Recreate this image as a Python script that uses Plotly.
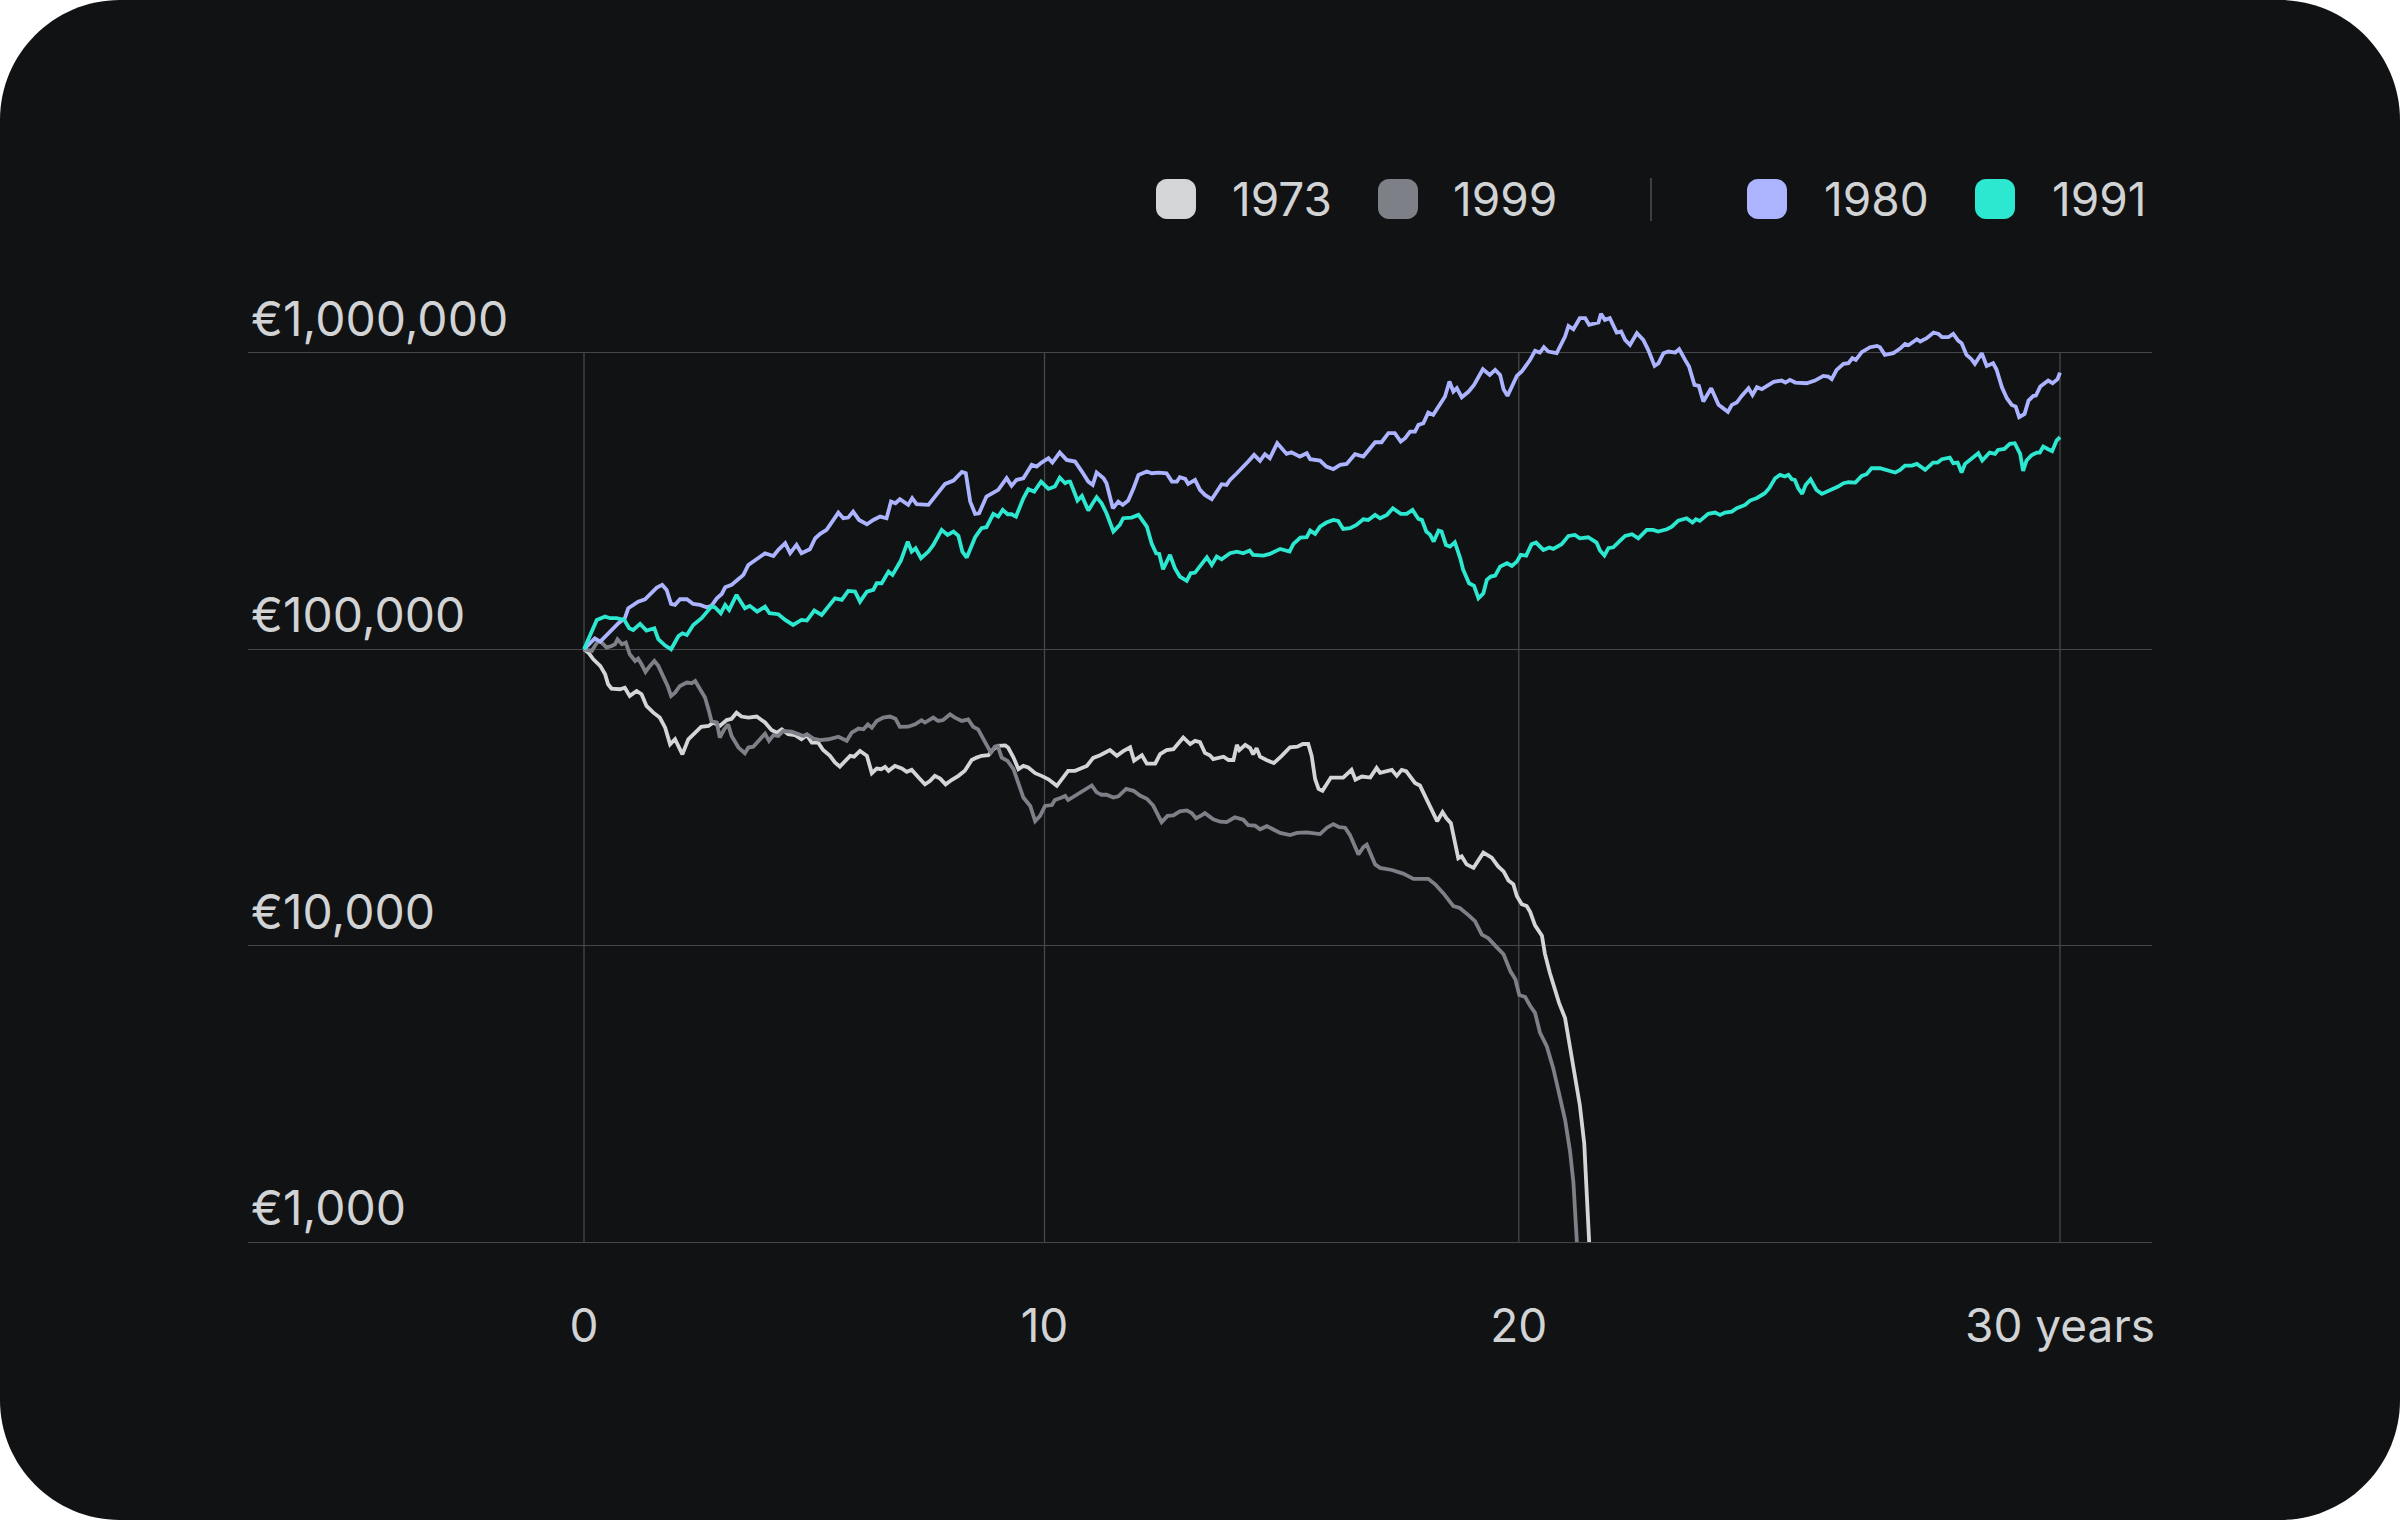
import plotly.graph_objects as go

# ---------------- data ----------------
years_1980 = [0, 0.22, 0.33, 0.49, 0.70, 0.83, 0.90, 1.00, 1.10, 1.24,
              1.38, 1.48, 1.59, 1.68, 1.77, 1.85, 1.95, 2.09, 2.22, 2.36,
              2.49, 2.59, 2.70, 2.80, 2.87, 3.00, 3.14, 3.24, 3.34, 3.51,
              3.68, 3.85, 3.95, 4.09, 4.19, 4.32, 4.42, 4.59, 4.70, 4.80,
              4.93, 5.07, 5.17, 5.27, 5.37, 5.47, 5.59, 5.75, 5.88, 6.02,
              6.15, 6.24, 6.33, 6.42, 6.59, 6.67, 6.76, 7.00, 7.17, 7.34,
              7.51, 7.68, 7.76, 7.85, 7.95, 8.03, 8.18, 8.42, 8.59, 8.69,
              8.79, 8.93, 9.10, 9.20, 9.30, 9.44, 9.52, 9.67, 9.81, 9.98,
              10.12, 10.25, 10.34, 10.42, 10.56, 10.62, 10.75, 10.86, 10.95, 11.06,
              11.17, 11.27, 11.44, 11.54, 11.68, 11.84, 11.95, 12.05, 12.11, 12.22,
              12.28, 12.42, 12.52, 12.62, 12.76, 12.86, 12.96, 13.06, 13.13, 13.27,
              13.40, 13.50, 13.62, 13.74, 13.84, 13.94, 14.09, 14.28, 14.38, 14.55,
              14.69, 14.76, 14.96, 15.09, 15.23, 15.37, 15.50, 15.67, 15.84, 15.98,
              16.08, 16.21, 16.35, 16.48, 16.60, 16.69, 16.79, 16.89, 16.96, 17.06,
              17.16, 17.26, 17.40, 17.50, 17.59, 17.67, 17.74, 17.84, 17.98, 18.09,
              18.27, 18.41, 18.52, 18.62, 18.69, 18.77, 18.86, 18.96, 19.06, 19.16,
              19.23, 19.33, 19.43, 19.51, 19.60, 19.77, 19.87, 19.94, 20.01, 20.11,
              20.24, 20.35, 20.43, 20.55, 20.62, 20.67, 20.75, 20.85, 20.99, 21.08,
              21.16, 21.26, 21.40, 21.53, 21.63, 21.76, 21.84, 21.94, 22.04, 22.18,
              22.26, 22.38, 22.46, 22.57, 22.66, 22.75, 22.91, 23.06, 23.25, 23.33,
              23.43, 23.53, 23.67, 23.75, 23.84, 23.94, 24.04, 24.18, 24.34, 24.42,
              24.51, 24.62, 24.85, 25.02, 25.19, 25.29, 25.36, 25.46, 25.60, 25.70,
              25.78, 25.85, 25.97, 26.14, 26.28, 26.34, 26.44, 26.61, 26.75, 26.85,
              26.92, 27.09, 27.16, 27.29, 27.43, 27.53, 27.60, 27.73, 27.83, 27.93,
              28.00, 28.10, 28.20, 28.27, 28.41, 28.51, 28.64, 28.71, 28.82, 28.92,
              29.02, 29.10, 29.17, 29.28, 29.36, 29.46, 29.51, 29.60, 29.76, 29.85,
              29.95, 30.00]
values_1980 = [100000, 108900, 106100, 113200, 122400, 127300, 137500, 141100, 144800, 147500,
               156500, 161500, 164900, 158600, 142200, 141100, 147500, 147500, 142200, 141100,
               138600, 140100, 148600, 153700, 161900, 164900, 172700, 178200, 192600, 201200,
               210900, 206500, 216400, 227900, 210900, 224900, 210900, 217500, 236900, 245100,
               252800, 273200, 289200, 276800, 278200, 291500, 273200, 264200, 273200, 280400,
               276800, 315000, 311000, 320800, 307000, 323300, 308600, 307000, 331800, 361400,
               370900, 396800, 392600, 315000, 286300, 287700, 327500, 344900, 377700, 355900,
               372800, 377700, 418900, 413500, 426600, 441200, 426600, 461100, 435500, 430000,
               397800, 368000, 358600, 394700, 377700, 363300, 299100, 315000, 307000, 317500,
               349400, 387600, 397800, 392600, 394700, 392600, 368000, 368000, 380700, 375700,
               361400, 372800, 344900, 331800, 320800, 340500, 360500, 358600, 372800, 392600,
               411400, 430000, 452800, 432200, 455100, 441200, 495700, 456300, 462300, 446900,
               458700, 437800, 433300, 413500, 405100, 418900, 422200, 455100, 446900, 476700,
               499600, 499600, 535800, 535800, 502200, 515400, 542700, 542700, 571600, 579000,
               629100, 617800, 667800, 712400, 800500, 740600, 760100, 708700, 740600, 780100,
               881000, 843100, 876500, 843100, 754200, 716100, 770100, 836600, 865200, 911200,
               947500, 1015900, 1002900, 1045300, 1010700, 997700, 1078400, 1135800, 1233800, 1202300,
               1309500, 1309500, 1243400, 1259600, 1266100, 1354400, 1292700, 1309500, 1171500, 1180600,
               1106600, 1064500, 1165500, 1106600, 1023900, 904100, 923100, 997700, 1010700, 1002900,
               1029200, 947500, 899500, 780100, 774100, 685300, 760100, 667800, 632400, 667800,
               679900, 716100, 760100, 721700, 766000, 754200, 770100, 798500, 806800, 794300,
               811000, 794300, 790200, 806800, 836600, 832300, 815200, 876500, 918300, 923100,
               959900, 947500, 1005500, 1045300, 1056200, 1045300, 984900, 997700, 1034600, 1072700,
               1061700, 1112400, 1092400, 1121000, 1171500, 1159400, 1129800, 1129800, 1159400, 1100900,
               1078400, 984900, 952500, 918300, 997700, 904100, 923100, 879300, 766000, 703300,
               667800, 659200, 606700, 622600, 690600, 716100, 718000, 770100, 806800, 790200,
               815200, 858500]

years_1991 = [0, 0.12, 0.26, 0.43, 0.53, 0.66, 0.82, 0.92, 1.00, 1.14,
              1.27, 1.43, 1.51, 1.65, 1.77, 1.92, 2.00, 2.09, 2.22, 2.39,
              2.49, 2.59, 2.66, 2.78, 2.87, 2.95, 3.10, 3.27, 3.37, 3.52,
              3.68, 3.77, 3.95, 4.09, 4.25, 4.42, 4.53, 4.68, 4.83, 4.97,
              5.10, 5.24, 5.37, 5.51, 5.61, 5.75, 5.88, 5.95, 6.05, 6.19,
              6.27, 6.44, 6.58, 6.66, 6.74, 6.85, 7.00, 7.10, 7.27, 7.39,
              7.51, 7.61, 7.69, 7.78, 7.88, 7.95, 8.08, 8.18, 8.32, 8.42,
              8.51, 8.61, 8.69, 8.78, 8.93, 9.03, 9.15, 9.29, 9.44, 9.57,
              9.67, 9.78, 9.84, 9.88, 9.96, 10.03, 10.12, 10.25, 10.34, 10.42,
              10.52, 10.62, 10.76, 10.89, 10.96, 11.13, 11.27, 11.44, 11.54, 11.63,
              11.69, 11.77, 11.91, 12.01, 12.11, 12.25, 12.33, 12.42, 12.66, 12.76,
              12.86, 12.96, 13.13, 13.27, 13.40, 13.53, 13.60, 13.81, 13.94, 14.15,
              14.34, 14.42, 14.56, 14.69, 14.76, 14.86, 14.96, 15.09, 15.23, 15.33,
              15.43, 15.57, 15.70, 15.84, 15.94, 16.08, 16.18, 16.32, 16.44, 16.60,
              16.72, 16.84, 16.96, 17.03, 17.12, 17.20, 17.27, 17.37, 17.43, 17.52,
              17.60, 17.70, 17.81, 17.87, 17.99, 18.09, 18.18, 18.28, 18.35, 18.43,
              18.52, 18.62, 18.76, 18.86, 18.96, 19.04, 19.15, 19.26, 19.35, 19.50,
              19.62, 19.70, 19.87, 19.94, 20.01, 20.14, 20.24, 20.41, 20.58, 20.65,
              20.74, 20.82, 20.92, 21.06, 21.16, 21.30, 21.43, 21.60, 21.73, 21.83,
              22.01, 22.11, 22.24, 22.41, 22.53, 22.60, 22.68, 22.85, 22.99, 23.09,
              23.19, 23.33, 23.43, 23.60, 23.70, 23.84, 24.00, 24.09, 24.21, 24.31,
              24.41, 24.48, 24.55, 24.61, 24.68, 24.76, 24.83, 24.93, 25.05, 25.16,
              25.29, 25.39, 25.49, 25.60, 25.70, 25.84, 25.97, 26.07, 26.17, 26.34,
              26.51, 26.65, 26.75, 26.85, 26.99, 27.09, 27.26, 27.42, 27.51, 27.60,
              27.76, 27.83, 27.92, 28.00, 28.07, 28.20, 28.34, 28.42, 28.57, 28.68,
              28.74, 28.87, 28.98, 29.08, 29.19, 29.25, 29.32, 29.42, 29.53, 29.59,
              29.66, 29.76, 29.84, 29.93, 30.00]
values_1991 = [100000, 110400, 125600, 128900, 127300, 127300, 125600, 117700, 116200, 121800,
               115600, 117700, 108100, 102900, 100000, 110900, 113200, 111800, 120800, 127300,
               133000, 139300, 138600, 132300, 141100, 135800, 152500, 137500, 140100, 134000,
               139300, 132300, 131300, 125600, 120800, 125600, 125000, 135100, 130600, 139300,
               148600, 146700, 157300, 156500, 144800, 156500, 158600, 167000, 167000, 182800,
               178200, 199200, 230900, 213600, 219200, 202800, 213600, 224900, 252800, 243200,
               249600, 241300, 213600, 203900, 224900, 238800, 256100, 258100, 286300, 280400,
               295300, 285500, 285500, 280400, 323300, 346700, 340500, 368000, 347600, 354000,
               379600, 363300, 368000, 368000, 340500, 317500, 329200, 293800, 311000, 325800,
               311000, 287700, 249600, 262800, 276800, 278200, 284100, 259400, 226700, 210900,
               209800, 186200, 208200, 187700, 175900, 170100, 180500, 181500, 204400, 192600,
               205500, 201200, 210900, 213600, 210900, 215300, 208200, 207100, 209800, 218100,
               213600, 226700, 238200, 238800, 251500, 245100, 259400, 267600, 273200, 271100,
               254800, 256100, 262800, 274600, 273200, 284100, 276800, 284100, 299100, 286300,
               286300, 295300, 275300, 273200, 249600, 243200, 230900, 251500, 249600, 224900,
               222100, 229700, 202800, 185300, 167000, 163600, 148600, 154500, 171400, 175900,
               177300, 190100, 195100, 191100, 197600, 208200, 207100, 226100, 229100, 216400,
               220400, 218100, 226100, 235100, 241300, 243200, 236900, 238800, 229100, 215300,
               207100, 219200, 220900, 232700, 241300, 244400, 236900, 252800, 252800, 249600,
               254100, 259400, 271800, 276800, 267600, 274600, 271100, 286300, 289200, 284100,
               289200, 291500, 299100, 307000, 317500, 324100, 336100, 349400, 377700, 387600,
               382600, 387600, 374700, 372800, 349400, 334400, 358600, 374700, 344900, 334400,
               342200, 346700, 354000, 363300, 366100, 365100, 384600, 389600, 408200, 408200,
               399900, 394700, 403000, 416700, 416700, 422200, 403000, 426600, 426600, 437800,
               443500, 424300, 426600, 394700, 422200, 441200, 458700, 433300, 461100, 456300,
               470700, 474400, 493200, 495700, 456300, 399900, 433300, 451600, 461100, 461100,
               483100, 473200, 465900, 506100, 519400]

years_1973 = [0, 0.09, 0.19, 0.33, 0.43, 0.49, 0.56, 0.73, 0.83, 0.93,
              1.07, 1.17, 1.27, 1.41, 1.54, 1.65, 1.75, 1.85, 2.00, 2.12,
              2.26, 2.38, 2.53, 2.63, 2.76, 2.90, 3.00, 3.10, 3.20, 3.34,
              3.51, 3.68, 3.81, 3.92, 4.02, 4.15, 4.29, 4.42, 4.53, 4.63,
              4.76, 4.86, 5.00, 5.10, 5.20, 5.30, 5.41, 5.49, 5.61, 5.75,
              5.85, 5.95, 6.04, 6.12, 6.19, 6.32, 6.46, 6.56, 6.66, 6.80,
              6.93, 7.03, 7.13, 7.24, 7.35, 7.47, 7.61, 7.74, 7.88, 7.98,
              8.08, 8.22, 8.32, 8.42, 8.56, 8.62, 8.73, 8.83, 8.93, 9.03,
              9.17, 9.30, 9.44, 9.61, 9.71, 9.84, 9.98, 10.15,
              10.22, 10.35, 10.49, 10.69, 10.83, 10.96, 11.10, 11.18, 11.34, 11.44,
              11.61, 11.71, 11.84, 11.98, 12.08, 12.18, 12.32, 12.42, 12.52, 12.62,
              12.72, 12.79, 13.00, 13.10, 13.20, 13.27, 13.32, 13.44, 13.54, 13.60,
              13.67, 13.74, 13.87, 14.02, 14.18, 14.35, 14.50, 14.61, 14.72, 14.79,
              14.86, 14.93, 15.01, 15.10, 15.18, 15.43, 15.60, 15.68, 15.81, 15.98,
              16.11, 16.18, 16.42, 16.52, 16.62, 16.71, 16.79, 16.89, 16.99, 17.09,
              17.20, 17.34, 17.45, 17.53, 17.62, 17.70, 17.77, 17.84, 17.94, 18.08,
              18.18, 18.28, 18.45, 18.58, 18.69, 18.79, 18.89, 18.96, 19.06, 19.16,
              19.23, 19.33, 19.47, 19.53, 19.63, 19.74, 19.82, 19.94, 20.04, 20.14,
              20.24, 20.33, 20.38, 20.43, 20.45]
values_1973 = [100000, 97400, 92500, 87900, 82300, 76200, 73700, 73300, 74200, 69600,
               72300, 70500, 64400, 61100, 58800, 54400, 47800, 49700, 44200, 49700,
               52300, 54700, 55100, 56600, 55100, 57700, 58300, 61100, 59300, 58800,
               59300, 56600, 53400, 52300, 53700, 51700, 51300, 49700, 51300, 48400,
               48400, 45700, 43700, 41500, 40200, 42000, 43700, 43400, 45400, 43700,
               38200, 39600, 39400, 40100, 38900, 40400, 39600, 38600, 39200, 36900,
               35000, 35900, 37400, 36600, 35000, 36200, 37400, 38900, 42300, 43100,
               43700, 43900, 46000, 47200, 47400, 46600, 43100, 39400, 40400, 39900,
               38200, 37400, 36400, 34600, 36400, 38900, 38900, 39900,
               40400, 43000, 43900, 45700, 43700, 45300, 46700, 42100, 43900, 41100,
               41100, 44300, 45700, 46000, 47900, 50400, 47900, 49100, 48600, 44700,
               43900, 42600, 43400, 42300, 42300, 47600, 45700, 47600, 46400, 44200,
               46400, 43400, 42300, 41300, 43700, 46700, 46900, 47900, 47900, 43700,
               36500, 33800, 33300, 35200, 36900, 36900, 39200, 36300, 37200, 36900,
               39800, 38300, 39200, 37400, 39200, 38800, 37200, 35400, 34700, 32100,
               29500, 26300, 28200, 26900, 25900, 21900, 19700, 20000, 18800, 18300,
               19500, 20600, 19800, 18500, 17800, 16600, 16100, 14700, 13800, 13600,
               13000, 11700, 10800, 9400, 8100, 7000, 6400, 5700, 4600, 3700,
               2900, 2150, 1540, 1000, 200]

years_1999 = [0, 0.09, 0.16, 0.22, 0.29, 0.36, 0.46, 0.56, 0.63, 0.68,
              0.77, 0.85, 0.93, 1.04, 1.10, 1.17, 1.25, 1.34, 1.43, 1.51,
              1.61, 1.70, 1.77, 1.85, 1.95, 2.09, 2.19, 2.26, 2.36, 2.46,
              2.53, 2.59, 2.70, 2.76, 2.85, 2.93, 3.00, 3.14, 3.27, 3.34,
              3.44, 3.58, 3.68, 3.76, 3.85, 3.95, 4.05, 4.22, 4.36, 4.46,
              4.53, 4.66, 4.80, 4.97, 5.17, 5.34, 5.44, 5.58, 5.68, 5.77,
              5.85, 5.95, 6.08, 6.22, 6.33, 6.42, 6.59, 6.73, 6.86, 6.93,
              7.10, 7.20, 7.30, 7.44, 7.54, 7.68, 7.81, 7.91, 8.01, 8.15,
              8.27, 8.35, 8.41, 8.49, 8.61, 8.73, 8.83, 8.93, 9.07, 9.17,
              9.27, 9.37, 9.51, 9.57, 9.71, 9.78, 9.84, 9.98, 10.15, 10.32,
              10.42, 10.52, 10.62, 10.76, 10.86, 11.02, 11.17, 11.30, 11.44, 11.57,
              11.67, 11.74, 11.86, 11.98, 12.11, 12.25, 12.35, 12.44, 12.55, 12.62,
              12.79, 12.93, 13.06, 13.23, 13.40, 13.50, 13.64, 13.74, 13.88, 14.01,
              14.15, 14.35, 14.49, 14.69, 14.96, 15.10, 15.23, 15.35, 15.47, 15.57,
              15.67, 15.74, 15.84, 15.91, 16.08, 16.18, 16.42, 16.52, 16.65, 16.86,
              17.03, 17.16, 17.30, 17.47, 17.67, 17.80, 17.97, 18.11, 18.25, 18.38,
              18.52, 18.69, 18.83, 18.93, 19.01, 19.13, 19.23, 19.33, 19.43, 19.57,
              19.70, 19.84, 19.94, 20.04, 20.11, 20.18, 20.20]
values_1999 = [100000, 99500, 98700, 102600, 106700, 105300, 101300, 102600, 104000, 108100,
               104000, 105300, 96200, 91300, 93000, 89000, 83900, 87900, 91300, 87900,
               81300, 75200, 69600, 71400, 75200, 77200, 76800, 78200, 73300, 68700,
               62700, 57300, 56600, 50300, 53700, 55800, 51000, 46600, 44600, 46600,
               46900, 49700, 51900, 49100, 51300, 51000, 53000, 52700, 51900, 51000,
               51700, 50000, 49400, 49700, 50700, 49100, 52300, 54000, 53700, 55800,
               54400, 57300, 58800, 59300, 58300, 54700, 54800, 55800, 57600, 56600,
               58800, 57300, 57700, 60300, 58800, 57300, 58000, 54800, 53700, 48400,
               44800, 46900, 47200, 43100, 42000, 39400, 35000, 31600, 29600, 26300,
               27400, 29600, 29800, 31000, 31600, 32000, 31000, 32000, 33300, 34700,
               32900, 32300, 32300, 31600, 31900, 33800, 33300, 32100, 31300, 29700,
               27500, 26100, 27400, 27500, 28400, 28600, 28000, 26900, 27500, 28000,
               26700, 26200, 26100, 27100, 26600, 25500, 25400, 24700, 25300, 24700,
               24000, 23600, 24000, 24100, 23800, 25000, 25700, 25100, 25000, 23600,
               21500, 20300, 21500, 21900, 18800, 18300, 18000, 17800, 17500, 16800,
               16800, 16800, 16100, 15000, 13600, 13400, 12700, 12100, 10900, 10600,
               10000, 9350, 8190, 7700, 6810, 6710, 6270, 5930, 5090, 4570,
               3860, 3110, 2590, 2030, 1590, 1000, 200]

series_names = ["1973", "1999", "1980", "1991"]
series_colors = ["#d4d5d7", "#7d8187", "#adb4ff", "#2de8d0"]

y_tick_values = [1000, 10000, 100000, 1000000]
y_tick_labels = ["€1,000", "€10,000", "€100,000", "€1,000,000"]
x_tick_positions = [0, 9.36, 19.0, 30]
x_tick_labels = ["0", "10", "20", "30 years"]

# ---------------- layout geometry ----------------
W, H = 2400, 1520
ML, MR, MT, MB = 248, 248, 264, 278
PW = W - ML - MR
PH = H - MT - MB
BG = "#111214"
GRID = "#45474b"
TXT = "#d2d3d5"
FONT = "Inter, 'Noto Sans', sans-serif"
ylo, yhi = 3, 6.3


def px(X):
    return (X - ML) / PW


def py(Y):
    return (H - MB - Y) / PH


def rrect_path(x0, y0, x1, y1, r):
    k = 0.5523 * r
    pts = [
        ("M", [(x0 + r, y0)]),
        ("L", [(x1 - r, y0)]),
        ("C", [(x1 - r + k, y0), (x1, y0 + r - k), (x1, y0 + r)]),
        ("L", [(x1, y1 - r)]),
        ("C", [(x1, y1 - r + k), (x1 - r + k, y1), (x1 - r, y1)]),
        ("L", [(x0 + r, y1)]),
        ("C", [(x0 + r - k, y1), (x0, y1 - r + k), (x0, y1 - r)]),
        ("L", [(x0, y0 + r)]),
        ("C", [(x0, y0 + r - k), (x0 + r - k, y0), (x0 + r, y0)]),
    ]
    s = ""
    for cmd, ps in pts:
        s += cmd + " ".join(f"{px(a):.6f},{py(b):.6f}" for a, b in ps) + " "
    return s + "Z"


fig = go.Figure()

all_series = [
    (years_1973, values_1973),
    (years_1999, values_1999),
    (years_1980, values_1980),
    (years_1991, values_1991),
]
for (xs, ys), name, col in zip(all_series, series_names, series_colors):
    fig.add_trace(go.Scatter(x=xs, y=ys, mode="lines", name=name,
                             line=dict(color=col, width=3.8), hoverinfo="skip"))

shapes = []
# card background with rounded corners
shapes.append(dict(type="path", xref="paper", yref="paper", layer="below",
                   path=rrect_path(0, 0, W, H, 120), fillcolor=BG,
                   line=dict(width=0)))
# vertical gridlines (from €1,000 to €1,000,000)
top_grid = (6 - ylo) / (yhi - ylo)
for xv in x_tick_positions:
    shapes.append(dict(type="line", xref="x", yref="paper", layer="below",
                       x0=xv, x1=xv, y0=0, y1=top_grid,
                       line=dict(color=GRID, width=1.3)))

# custom legend
legend_boxes = [(1156, 1230), (1378, 1451), (1747, 1822), (1975, 2050)]
for (bx, tx), name, col in zip(legend_boxes, series_names, series_colors):
    shapes.append(dict(type="path", xref="paper", yref="paper",
                       path=rrect_path(bx, 179, bx + 40, 219, 11),
                       fillcolor=col, line=dict(width=0)))
shapes.append(dict(type="line", xref="paper", yref="paper",
                   x0=px(1651), x1=px(1651), y0=py(178), y1=py(221),
                   line=dict(color="#3d3f43", width=2)))

annotations = []
for (bx, tx), name in zip(legend_boxes, series_names):
    annotations.append(dict(xref="paper", yref="paper", x=px(tx), y=py(199),
                            xanchor="left", yanchor="middle", text=name,
                            showarrow=False, font=dict(size=46, color=TXT, family=FONT)))

fig.update_layout(
    width=W, height=H,
    margin=dict(l=ML, r=MR, t=MT, b=MB, pad=0),
    paper_bgcolor="#ffffff",
    plot_bgcolor="rgba(0,0,0,0)",
    showlegend=False,
    font=dict(family=FONT, color=TXT, size=46),
    shapes=shapes,
    annotations=annotations,
    hovermode=False,
)
fig.update_xaxes(
    range=[(ML - 584) / 49.2, (W - MR - 584) / 49.2],
    showgrid=False, zeroline=False,
    tickmode="array", tickvals=x_tick_positions, ticktext=x_tick_labels,
    ticks="", ticklabelstandoff=44,
    showline=True, linecolor=GRID, linewidth=1.3,
    tickfont=dict(size=46, color=TXT, family=FONT),
)
fig.update_yaxes(
    type="log", range=[ylo, yhi],
    showgrid=True, gridcolor=GRID, gridwidth=1.3, zeroline=False,
    tickmode="array", tickvals=y_tick_values, ticktext=y_tick_labels,
    ticks="", ticklabelposition="inside top",
    tickfont=dict(size=48, color=TXT, family=FONT),
    showline=False,
)

fig.write_html("out.html")
